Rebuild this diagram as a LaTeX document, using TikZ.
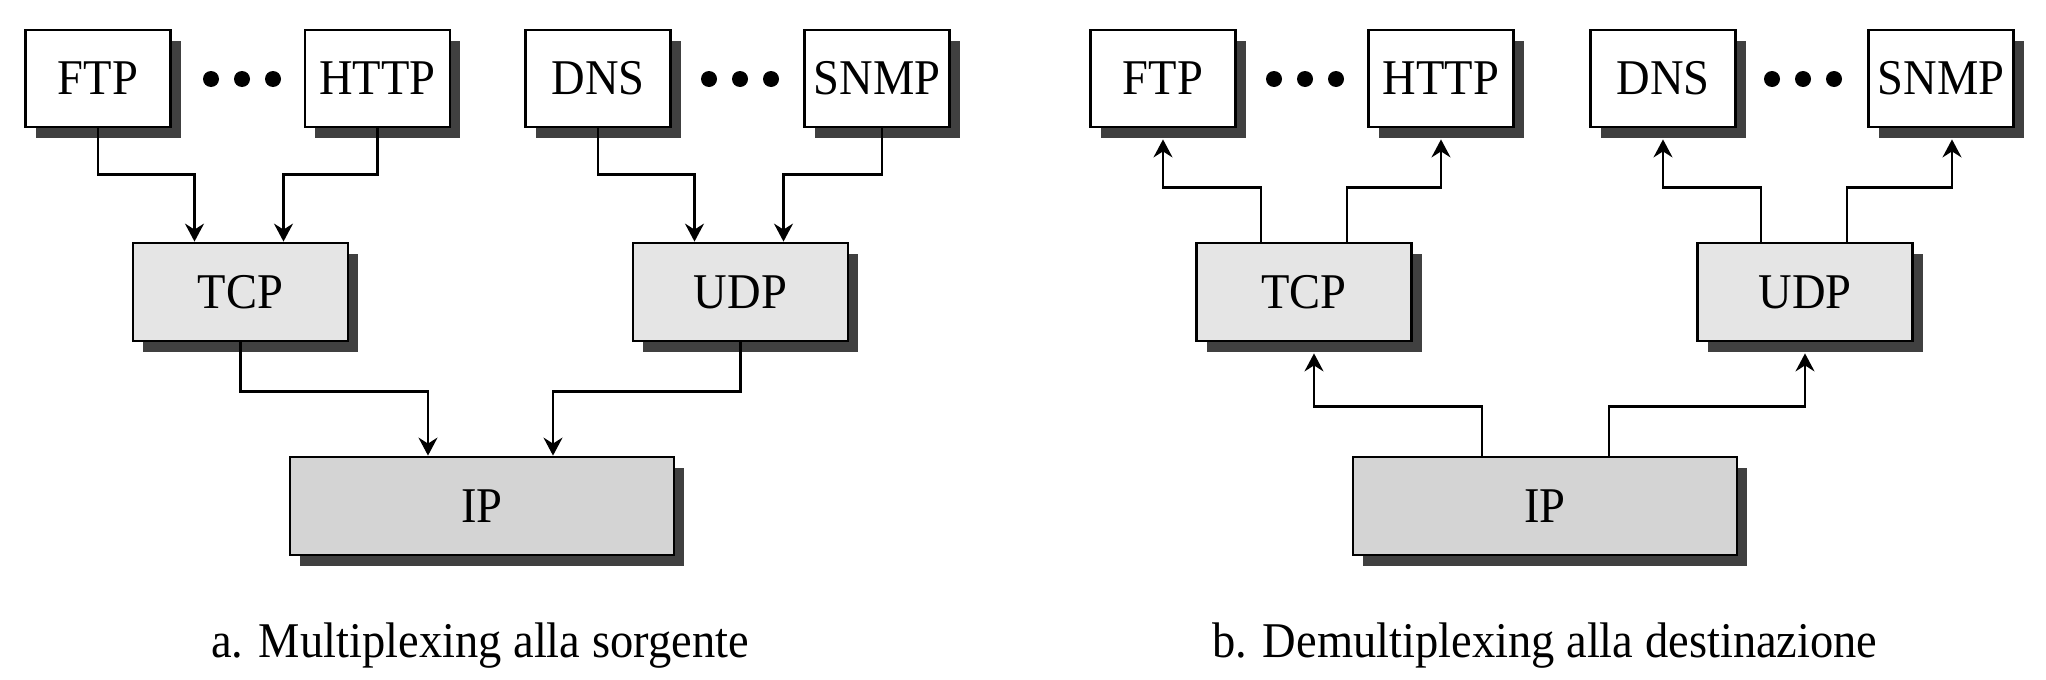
\documentclass[tikz,border=0pt]{standalone}
\usepackage{fontspec}
\setmainfont{Liberation Serif}[FakeStretch=0.93]
\usetikzlibrary{arrows.meta,shadows}
\definecolor{shd}{HTML}{404040}
\definecolor{midc}{HTML}{E5E5E5}
\definecolor{ipc}{HTML}{D4D4D4}
\begin{document}
\begin{tikzpicture}[x=0.5pt,y=-0.5pt,
  box/.style={draw=black, line width=1.4pt, inner sep=0pt,
    font=\fontsize{25}{30}\selectfont,
    drop shadow={shadow xshift=5pt, shadow yshift=-5.5pt, fill=shd, opacity=1}},
  appbox/.style={box, fill=white, minimum width=72.5pt, minimum height=48.5pt},
  midbox/.style={box, fill=midc, minimum width=107.5pt, minimum height=49pt},
  ipbox/.style={box, fill=ipc, minimum width=192pt, minimum height=49pt},
  conn/.style={line width=1.2pt, -{Stealth[length=9pt,width=9.5pt,inset=3pt]}},
  caption/.style={anchor=base, font=\fontsize{25}{30}\selectfont},
  dot/.style={fill=black}
]
\useasboundingbox (0,0) rectangle (2046,680);
% ---------- left: multiplexing ----------
\node[appbox] (lFTP)  at (98,78.5)  {FTP};
\node[appbox] (lHTTP) at (377.5,78.5) {HTTP};
\node[appbox] (lDNS)  at (598,78.5) {DNS};
\node[appbox] (lSNMP) at (877,78.5) {SNMP};
\node[midbox] (lTCP) at (240.5,292) {TCP};
\node[midbox] (lUDP) at (740.5,292) {UDP};
\node[ipbox] (lIP) at (482,506) {IP};
\foreach \x in {211,242,273,709,740,771}{\fill[dot] (\x,79) circle[radius=4pt];}
\draw[conn] (lFTP.south) -- ++(0,46) -| ([xshift=-23pt]lTCP.north);
\draw[conn] (lHTTP.south) -- ++(0,46) -| ([xshift=21.5pt]lTCP.north);
\draw[conn] (lDNS.south) -- ++(0,46) -| ([xshift=-23pt]lUDP.north);
\draw[conn] ([xshift=2.5pt]lSNMP.south) -- ++(0,46) -| ([xshift=21.5pt]lUDP.north);
\draw[conn] (lTCP.south) -- ++(0,49) -| ([xshift=-27pt]lIP.north);
\draw[conn] (lUDP.south) -- ++(0,49) -| ([xshift=35.5pt]lIP.north);
\node[caption] (lcap) at (480,657) {a. Multiplexing alla sorgente};
% ---------- right: demultiplexing ----------
\node[appbox] (rFTP)  at (1163,78.5) {FTP};
\node[appbox] (rHTTP) at (1441,78.5) {HTTP};
\node[appbox] (rDNS)  at (1663,78.5) {DNS};
\node[appbox] (rSNMP) at (1941,78.5) {SNMP};
\node[midbox] (rTCP) at (1304,292) {TCP};
\node[midbox] (rUDP) at (1805,292) {UDP};
\node[ipbox] (rIP) at (1545,506) {IP};
\foreach \x in {1274,1305,1336,1772,1803,1834}{\fill[dot] (\x,79) circle[radius=4pt];}
\draw[conn] ([xshift=-21.5pt]rTCP.north) -- ++(0,-54) -| ([yshift=-5.5pt]rFTP.south);
\draw[conn] ([xshift=21.5pt]rTCP.north) -- ++(0,-54) -| ([yshift=-5.5pt]rHTTP.south);
\draw[conn] ([xshift=-22pt]rUDP.north) -- ++(0,-54) -| ([yshift=-5.5pt]rDNS.south);
\draw[conn] ([xshift=21pt]rUDP.north) -- ++(0,-54) -| ([xshift=5.5pt,yshift=-5.5pt]rSNMP.south);
\draw[conn] ([xshift=-31.5pt]rIP.north) -- ++(0,-49) -| ([xshift=5pt,yshift=-5.5pt]rTCP.south);
\draw[conn] ([xshift=32pt]rIP.north) -- ++(0,-49) -| ([yshift=-5.5pt]rUDP.south);
\node[caption] (rcap) at (1545,657) {b. Demultiplexing alla destinazione};
\end{tikzpicture}
\end{document}
